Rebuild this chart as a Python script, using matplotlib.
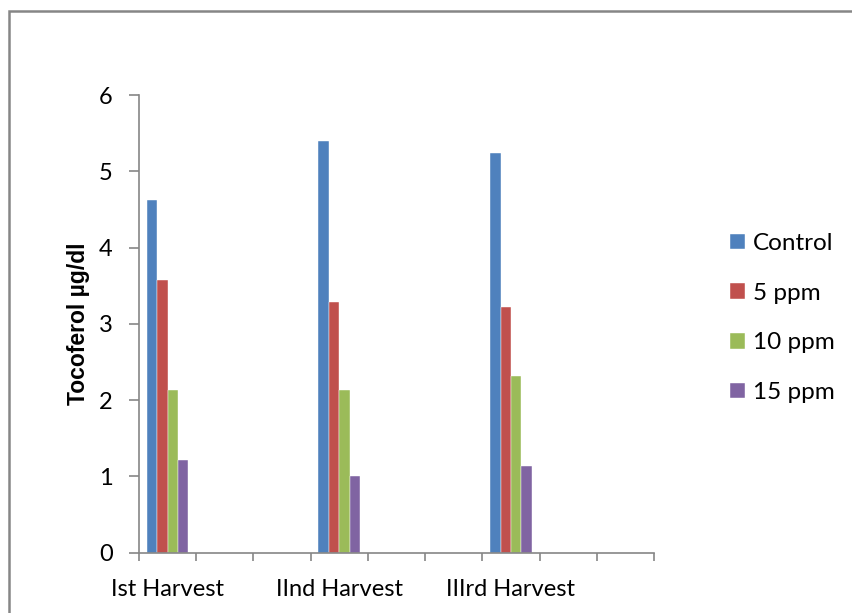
import matplotlib
matplotlib.use("Agg")
import matplotlib.pyplot as plt
from matplotlib.patches import Rectangle
import numpy as np

# Category slots along the x axis (blank slots separate the harvests)
categories = ["Ist Harvest", "", "", "IInd Harvest", "", "", "IIIrd Harvest", "", ""]
series_names = ["Control", "5 ppm", "10 ppm", "15 ppm"]
control = [4.62, None, None, 5.40, None, None, 5.24, None, None]
ppm5 = [3.57, None, None, 3.29, None, None, 3.22, None, None]
ppm10 = [2.13, None, None, 2.13, None, None, 2.32, None, None]
ppm15 = [1.21, None, None, 1.00, None, None, 1.13, None, None]
y_ticks = [0, 1, 2, 3, 4, 5, 6]

colors = ["#4F81BD", "#C0504D", "#9BBB59", "#8064A2"]
axis_grey = "#868686"

plt.rcParams["font.family"] = ["Lato", "DejaVu Sans"]

fig = plt.figure(figsize=(8.53, 6.13), dpi=100)
W, H = 853, 613

# outer chart frame (top and left edges visible)
fig.patches.append(Rectangle((9 / W, -0.1), 2.0, (H - 11) / H + 0.1,
                             transform=fig.transFigure, fill=False,
                             edgecolor=axis_grey, linewidth=1.8))

ax = fig.add_axes([139 / W, 1 - 552.7 / H, (654 - 139) / W, (552.7 - 95) / H])

x = np.arange(len(categories))
n = len(series_names)
bw = 0.727 / n
for i, (name, vals, c) in enumerate(zip(series_names, [control, ppm5, ppm10, ppm15], colors)):
    v = np.array([np.nan if val is None else val for val in vals], dtype=float)
    ax.bar(x + (i - (n - 1) / 2) * bw, v, width=bw, color=c, label=name,
           edgecolor="white", linewidth=0.3)

ax.set_xlim(-0.5, len(categories) - 0.5)
ax.set_ylim(0, 6)
ax.set_yticks(y_ticks)
ax.set_xticks(x)
ax.set_xticklabels(categories)
ax.set_xticks(np.arange(-0.5, len(categories)), minor=True)
ax.tick_params(axis="x", which="major", length=0, pad=19, labelsize=17)
ax.tick_params(axis="x", which="minor", length=6, width=1.2, color=axis_grey, direction="out")
ax.tick_params(axis="y", length=7, width=1.2, color=axis_grey, direction="out",
               pad=12, labelsize=17)

for s in ["top", "right"]:
    ax.spines[s].set_visible(False)
for s in ["left", "bottom"]:
    ax.spines[s].set_color(axis_grey)
    ax.spines[s].set_linewidth(1.2)

ax.set_ylabel("Tocoferol µg/dl", fontsize=16.5, fontweight="bold",
              family=["Liberation Sans", "DejaVu Sans"], labelpad=6)

ax.legend(loc="center left", bbox_to_anchor=(708 / W, 1 - 318 / H),
          bbox_transform=fig.transFigure, frameon=False, fontsize=17.5,
          handlelength=0.62, handleheight=0.62, handletextpad=0.32,
          labelspacing=1.18)

fig.savefig("out.png", dpi=100)
